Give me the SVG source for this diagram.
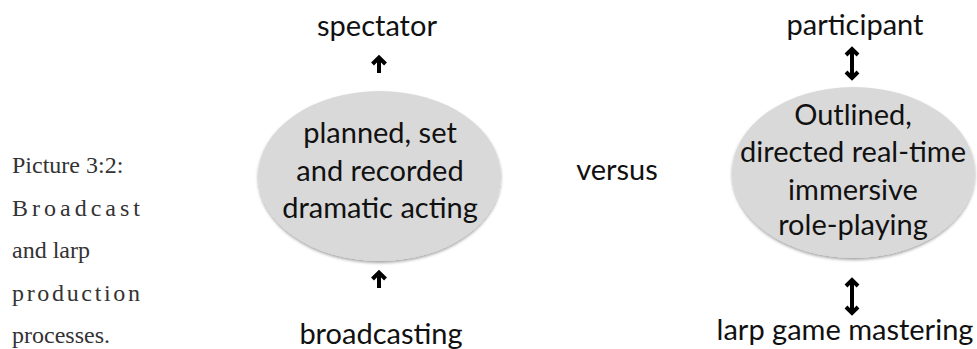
<svg xmlns="http://www.w3.org/2000/svg" width="977" height="349" viewBox="0 0 977 349">
<defs>
<filter id="sh" x="-10%" y="-10%" width="120%" height="125%">
<feGaussianBlur in="SourceAlpha" stdDeviation="1.5"/>
<feOffset dx="0" dy="2" result="b"/>
<feFlood flood-color="#000" flood-opacity="0.35"/>
<feComposite in2="b" operator="in"/>
<feMerge><feMergeNode/><feMergeNode in="SourceGraphic"/></feMerge>
</filter>
</defs>
<style>
.t{font-family:Lato,"Liberation Sans",sans-serif;font-size:29px;fill:#111;text-anchor:middle}
.cap{font-family:"Liberation Serif",serif;font-size:24px;fill:#333}
.el{fill:#d9d9d9;filter:url(#sh)}
.ar{stroke:#000;stroke-width:4;fill:none}
.hd{fill:none;stroke:#000;stroke-width:4;stroke-linecap:butt;stroke-linejoin:miter}
</style>
<rect width="977" height="349" fill="#fff"/>
<g id="caption">
<text class="cap" x="12" y="173">Picture 3:2:</text>
<text class="cap" x="12" y="216" textLength="128" lengthAdjust="spacing">Broadcast</text>
<text class="cap" x="12" y="258">and larp</text>
<text class="cap" x="12" y="301" textLength="128" lengthAdjust="spacing">production</text>
<text class="cap" x="12" y="343">processes.</text>
</g>
<g id="broadcast-node">
<ellipse class="el" cx="379.5" cy="176" rx="121.5" ry="85"/>
<text class="t" x="380" y="143">planned, set</text>
<text class="t" x="380" y="181">and recorded</text>
<text class="t" x="380" y="218">dramatic acting</text>
</g>
<g id="spectator"><text class="t" x="377" y="36">spectator</text></g>
<g id="broadcasting"><text class="t" x="381" y="344">broadcasting</text></g>
<g id="versus"><text class="t" x="617" y="180">versus</text></g>
<g id="larp-node">
<ellipse class="el" cx="853.5" cy="172.5" rx="121.5" ry="85.5"/>
<text class="t" x="853" y="125">Outlined,</text>
<text class="t" x="853" y="162">directed real-time</text>
<text class="t" x="853" y="200">immersive</text>
<text class="t" x="853" y="235">role-playing</text>
</g>
<g id="participant"><text class="t" x="855" y="35">participant</text></g>
<g id="gamemastering"><text class="t" x="845" y="340">larp game mastering</text></g>
<g id="connectors">
<path class="ar" d="M379,73 V59"/><path class="hd" d="M372.5,64 L379,57.5 L385.5,64"/>
<path class="ar" d="M379,288 V274"/><path class="hd" d="M372.5,279 L379,272.5 L385.5,279"/>
<path class="ar" d="M852,49 V78"/><path class="hd" d="M846,55 L852,49 L858,55"/><path class="hd" d="M846,72 L852,78 L858,72"/>
<path class="ar" d="M852,280 V313"/><path class="hd" d="M846,286 L852,280 L858,286"/><path class="hd" d="M846,307 L852,313 L858,307"/>
</g>
</svg>
